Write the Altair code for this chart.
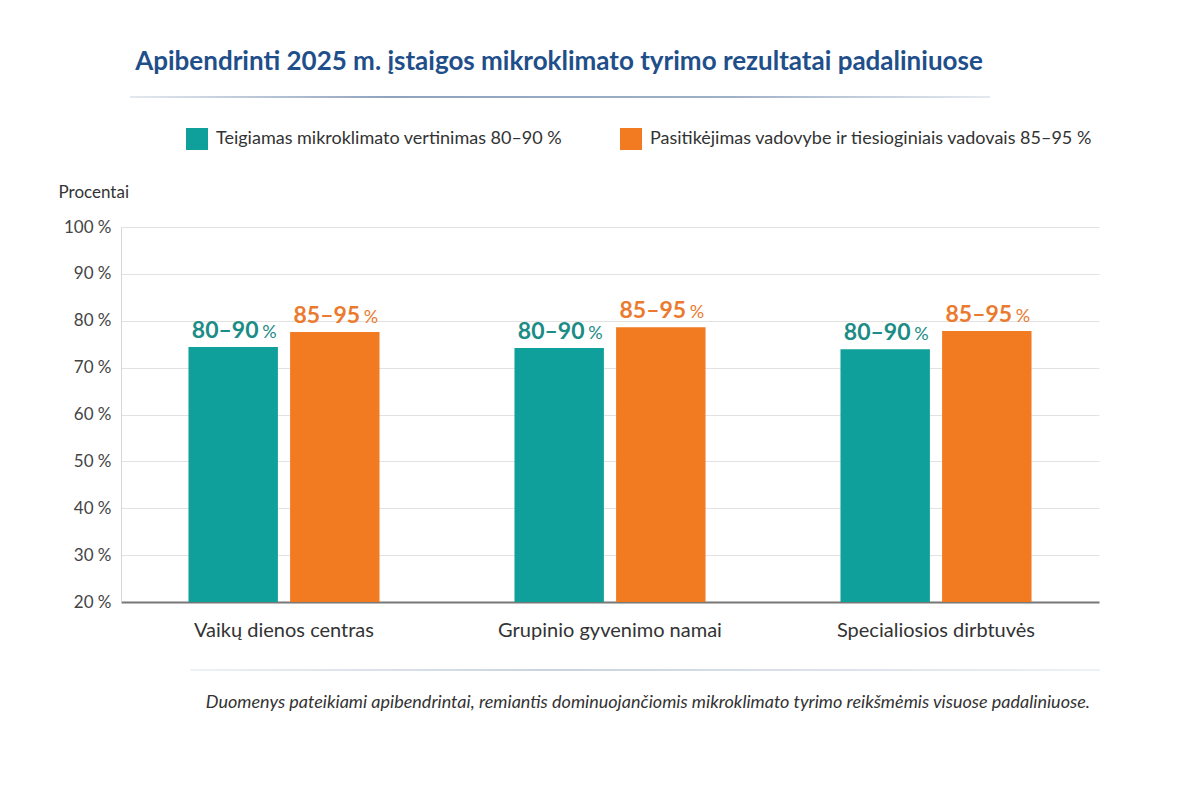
import altair as alt
import pandas as pd

categories = ["Vaikų dienos centras", "Grupinio gyvenimo namai", "Specialiosios dirbtuvės"]
series = [
    "Teigiamas mikroklimato vertinimas 80–90 %",
    "Pasitikėjimas vadovybe ir tiesioginiais vadovais 85–95 %",
]
teal_values = [74.4, 74.2, 73.9]
orange_values = [77.6, 78.6, 77.8]
teal_labels = ["80–90", "80–90", "80–90"]
orange_labels = ["85–95", "85–95", "85–95"]
y_ticks = [20, 30, 40, 50, 60, 70, 80, 90, 100]

title_text = "Apibendrinti 2025 m. įstaigos mikroklimato tyrimo rezultatai padaliniuose"
footnote_text = ("Duomenys pateikiami apibendrintai, remiantis dominuojančiomis "
                 "mikroklimato tyrimo reikšmėmis visuose padaliniuose.")
y_title = "Procentai"

rows = []
for c, v, l in zip(categories, teal_values, teal_labels):
    rows.append({"cat": c, "series": series[0], "value": v, "label": l})
for c, v, l in zip(categories, orange_values, orange_labels):
    rows.append({"cat": c, "series": series[1], "value": v, "label": l})
df = pd.DataFrame(rows)

TEAL = "#10a09c"
ORANGE = "#f27a21"
TEAL_TXT = "#1b8c86"
ORANGE_TXT = "#ea7a2e"
FONT = "Lato"

x_enc = alt.X("cat:N", sort=categories, title=None,
              scale=alt.Scale(paddingInner=0.414, paddingOuter=0.207),
              axis=alt.Axis(labelFontSize=20, labelColor="#333333", labelPadding=18,
                            ticks=False, domainColor="#777777", domainWidth=2,
                            labelFont=FONT, labelAngle=0, grid=False, labelLimit=500))
xo_enc = alt.XOffset("series:N", sort=series, scale=alt.Scale(paddingInner=0.12))
y_enc = alt.Y("value:Q", title=y_title,
              scale=alt.Scale(domain=[20, 100], zero=False, nice=False),
              axis=alt.Axis(values=y_ticks, labelExpr="datum.value + ' %'",
                            labelFontSize=17, labelColor="#444444", labelPadding=10,
                            labelFont=FONT, ticks=False, domainColor="#d6d6d6",
                            gridColor="#e2e2e2", titleAngle=0, titleAlign="left",
                            titleBaseline="alphabetic", titleX=-63, titleY=-30,
                            titleFontSize=17, titleFontWeight="normal",
                            titleColor="#333333", titleFont=FONT))

bars = alt.Chart(df).mark_bar().encode(
    x=x_enc, xOffset=xo_enc, y=y_enc, y2=alt.datum(20),
    color=alt.Color("series:N", sort=series,
                    scale=alt.Scale(domain=series, range=[TEAL, ORANGE]),
                    legend=alt.Legend(orient="none", legendX=65, legendY=-99,
                                      direction="horizontal", title=None,
                                      symbolType="square", symbolSize=484,
                                      symbolStrokeWidth=0, labelFontSize=18,
                                      labelColor="#333333", labelFont=FONT,
                                      labelOffset=8, columnPadding=57,
                                      labelLimit=600)),
)

txt_color = alt.condition(alt.datum.series == series[0], alt.value(TEAL_TXT), alt.value(ORANGE_TXT))

num_text = alt.Chart(df).mark_text(
    baseline="alphabetic", align="center", dx=-8, dy=-9,
    fontSize=23, fontWeight="bold", font=FONT,
).encode(x=alt.X("cat:N", sort=categories), xOffset=alt.XOffset("series:N", sort=series),
         y="value:Q", text="label:N", color=txt_color)

pct_text = alt.Chart(df).mark_text(
    baseline="alphabetic", align="left", dx=29, dy=-9,
    fontSize=18, font=FONT,
).encode(x=alt.X("cat:N", sort=categories), xOffset=alt.XOffset("series:N", sort=series),
         y="value:Q", text=alt.value("%"), color=txt_color)

one = pd.DataFrame({"k": [0]})

title = alt.Chart(one).mark_text(
    fontSize=26, fontWeight="bold", font=FONT, color="#1f4f8a",
    align="center", baseline="middle",
).encode(x=alt.value(438), y=alt.value(-165), text=alt.value(title_text))

grad_top = alt.Gradient(
    gradient="linear", x1=0, x2=1, y1=0, y2=0,
    stops=[alt.GradientStop(offset=0, color="#e4e9f0"),
           alt.GradientStop(offset=0.3, color="#8fa3bd"),
           alt.GradientStop(offset=0.7, color="#9fb1c8"),
           alt.GradientStop(offset=1, color="#e4e9f0")])
rule_top = alt.Chart(one).mark_rect(fill=grad_top).encode(
    x=alt.value(9), x2=alt.value(869), y=alt.value(-131), y2=alt.value(-129))

grad_bottom = alt.Gradient(
    gradient="linear", x1=0, x2=1, y1=0, y2=0,
    stops=[alt.GradientStop(offset=0, color="#eef1f5"),
           alt.GradientStop(offset=0.4, color="#c9d3df"),
           alt.GradientStop(offset=1, color="#eef1f5")])
rule_bottom = alt.Chart(one).mark_rect(fill=grad_bottom).encode(
    x=alt.value(69), x2=alt.value(979), y=alt.value(442), y2=alt.value(444))

footnote = alt.Chart(one).mark_text(
    fontSize=18, fontStyle="italic", font=FONT, color="#333333",
    align="right", baseline="middle",
).encode(x=alt.value(969), y=alt.value(476), text=alt.value(footnote_text))

chart = alt.layer(bars, num_text, pct_text, title, rule_top, rule_bottom, footnote).properties(
    width=978, height=375,
    autosize=alt.AutoSizeParams(type="none"),
    padding={"left": 113, "top": 219, "right": 80, "bottom": 170},
    background="#ffffff",
).configure_view(stroke=None)

chart.save("out.html", embed_options={"renderer": "svg", "actions": False})
